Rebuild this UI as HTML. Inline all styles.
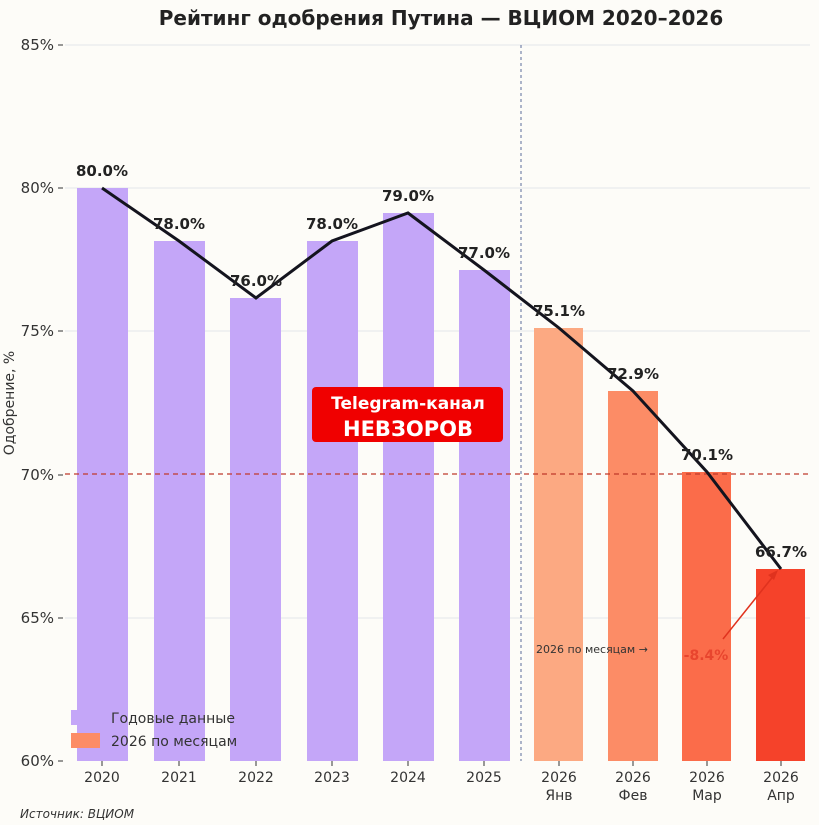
<!DOCTYPE html>
<html><head><meta charset="utf-8"><style>
html,body{margin:0;padding:0;background:#fdfcf8;}
svg{display:block;font-family:"DejaVu Sans","Liberation Sans",sans-serif;}
</style></head><body>
<svg width="819" height="825" viewBox="0 0 819 825">
<rect width="819" height="825" fill="#fdfcf8"/>
<text x="441" y="25" text-anchor="middle" font-size="20" font-weight="bold" fill="#222">Рейтинг одобрения Путина — ВЦИОМ 2020–2026</text>
<g stroke="#e4e6ea" stroke-width="1">
<line x1="65" y1="45" x2="810" y2="45"/><line x1="65" y1="188" x2="810" y2="188"/>
<line x1="65" y1="331" x2="810" y2="331"/><line x1="65" y1="618" x2="810" y2="618"/>
</g>
<g font-size="15" fill="#333" text-anchor="end">
<text x="54" y="50">85%</text><text x="54" y="193">80%</text><text x="54" y="336">75%</text>
<text x="54" y="480">70%</text><text x="54" y="623">65%</text><text x="54" y="766">60%</text>
</g>
<g stroke="#333" stroke-width="1">
<line x1="58" y1="45" x2="63" y2="45"/><line x1="58" y1="188" x2="63" y2="188"/><line x1="58" y1="331" x2="63" y2="331"/>
<line x1="58" y1="475" x2="63" y2="475"/><line x1="58" y1="618" x2="63" y2="618"/><line x1="58" y1="761" x2="63" y2="761"/>
</g>
<text transform="translate(14,403) rotate(-90)" text-anchor="middle" font-size="14" fill="#333">Одобрение, %</text>
<g fill="#c4a6f8">
<rect x="77" y="188" width="51" height="573"/><rect x="154" y="241" width="51" height="520"/>
<rect x="230" y="298" width="51" height="463"/><rect x="307" y="241" width="51" height="520"/>
<rect x="383" y="213" width="51" height="548"/><rect x="459" y="270" width="51" height="491"/>
</g>
<rect x="534" y="328" width="49" height="433" fill="#fca982"/>
<rect x="608" y="391" width="50" height="370" fill="#fc8c66"/>
<rect x="682" y="472" width="49" height="289" fill="#fb6c4a"/>
<rect x="756" y="569" width="49" height="192" fill="#f5422a"/>
<line x1="521" y1="45" x2="521" y2="761" stroke="#5a6b9a" stroke-width="1" stroke-dasharray="3,3"/>
<line x1="65" y1="474" x2="810" y2="474" stroke="#c0392b" stroke-width="1.2" stroke-dasharray="5,4"/>
<polyline points="102,188 179,241 256,298 332,241 408,213 484,270 559,328 633,391 707,472 781,569" fill="none" stroke="#14141e" stroke-width="3"/>
<g font-size="15" font-weight="bold" fill="#222" text-anchor="middle">
<text x="102" y="176">80.0%</text><text x="179" y="229">78.0%</text><text x="256" y="286">76.0%</text>
<text x="332" y="229">78.0%</text><text x="408" y="201">79.0%</text><text x="484" y="258">77.0%</text>
<text x="559" y="316">75.1%</text><text x="633" y="379">72.9%</text><text x="707" y="460">70.1%</text><text x="781" y="557">66.7%</text>
</g>
<line x1="723" y1="639" x2="775" y2="574" stroke="#e0321e" stroke-width="1.5"/>
<polygon points="778,570 768,575 774,580" fill="#e0321e"/>
<text x="706" y="660" text-anchor="middle" font-size="14" font-weight="bold" fill="#e8452e">-8.4%</text>
<text x="592" y="653" text-anchor="middle" font-size="11" fill="#333">2026 по месяцам →</text>
<rect x="312" y="387" width="191" height="55" rx="4" fill="#f00000"/>
<text x="408" y="409" text-anchor="middle" font-size="17" font-weight="bold" fill="#fff">Telegram-канал</text>
<text x="408" y="436" text-anchor="middle" font-size="21" font-weight="bold" fill="#fff">НЕВЗОРОВ</text>
<rect x="71" y="710" width="29" height="15" fill="#c4a6f8"/>
<rect x="71" y="733" width="29" height="15" fill="#fc8c66"/>
<g font-size="14" fill="#333"><text x="111" y="723">Годовые данные</text><text x="111" y="746">2026 по месяцам</text></g>
<g stroke="#333"><line x1="102" y1="761" x2="102" y2="766"/><line x1="179" y1="761" x2="179" y2="766"/><line x1="256" y1="761" x2="256" y2="766"/><line x1="332" y1="761" x2="332" y2="766"/><line x1="408" y1="761" x2="408" y2="766"/><line x1="484" y1="761" x2="484" y2="766"/><line x1="559" y1="761" x2="559" y2="766"/><line x1="633" y1="761" x2="633" y2="766"/><line x1="707" y1="761" x2="707" y2="766"/><line x1="781" y1="761" x2="781" y2="766"/></g>
<g font-size="14" fill="#333" text-anchor="middle">
<text x="102" y="782">2020</text><text x="179" y="782">2021</text><text x="256" y="782">2022</text><text x="332" y="782">2023</text><text x="408" y="782">2024</text><text x="484" y="782">2025</text>
<text x="559" y="782">2026</text><text x="633" y="782">2026</text><text x="707" y="782">2026</text><text x="781" y="782">2026</text>
<text x="559" y="800">Янв</text><text x="633" y="800">Фев</text><text x="707" y="800">Мар</text><text x="781" y="800">Апр</text>
</g>
<text x="20" y="818" font-size="12" font-style="italic" fill="#333">Источник: ВЦИОМ</text>
</svg>
</body></html>
